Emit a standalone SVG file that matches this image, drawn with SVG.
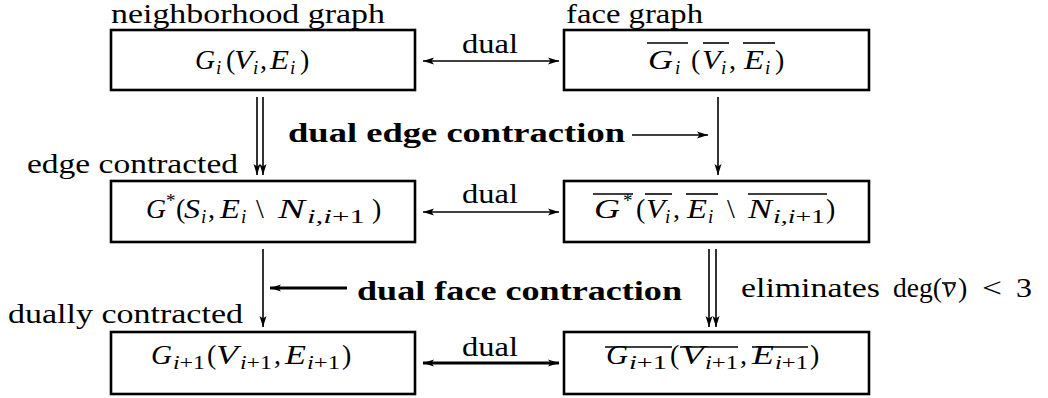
<svg xmlns="http://www.w3.org/2000/svg" width="1048" height="398" viewBox="0 0 1048 398">
<style>
text{font-family:"Liberation Serif","Times New Roman",serif;fill:#000}
.t{font-size:28px}
.b{font-size:28px;font-weight:bold}
.m{font-size:28px;font-style:italic}
.r{font-size:28px}
.s{font-size:19px;font-style:italic}
.sr{font-size:19px}
.box{fill:#fff;stroke:#000;stroke-width:2.6}
.ln{stroke:#000;stroke-width:1.6;fill:none}
.lnb{stroke:#000;stroke-width:3;fill:none}
.ov{stroke:#000;stroke-width:1.6}
</style>
<defs>
<marker id="ah" markerUnits="userSpaceOnUse" markerWidth="12" markerHeight="8" refX="11" refY="3.5" orient="auto-start-reverse" viewBox="0 0 12 7">
<path d="M0,0 L11,3.5 L0,7 L2.5,3.5 Z" fill="#000"/>
</marker>
</defs>
<rect width="1048" height="398" fill="#fff"/>

<g id="connectors">
<line class="ln" x1="423" y1="61" x2="559" y2="61" marker-start="url(#ah)" marker-end="url(#ah)"/>
<text class="t" x="462" y="53" textLength="56" lengthAdjust="spacingAndGlyphs">dual</text>
<line class="ln" x1="423" y1="212" x2="559" y2="212" marker-start="url(#ah)" marker-end="url(#ah)"/>
<text class="t" x="462" y="203" textLength="56" lengthAdjust="spacingAndGlyphs">dual</text>
<line class="lnb" x1="423" y1="363" x2="559" y2="363" marker-start="url(#ah)" marker-end="url(#ah)"/>
<text class="t" x="462" y="356" textLength="56" lengthAdjust="spacingAndGlyphs">dual</text>

<line class="ln" x1="257" y1="97" x2="257" y2="175" marker-end="url(#ah)"/>
<line class="ln" x1="263" y1="97" x2="263" y2="175" marker-end="url(#ah)"/>
<line class="ln" x1="718" y1="97" x2="718" y2="175" marker-end="url(#ah)"/>
<line class="ln" x1="632" y1="135" x2="708" y2="135" marker-end="url(#ah)"/>
<text class="b" x="288" y="142" textLength="337" lengthAdjust="spacingAndGlyphs">dual edge contraction</text>

<line class="ln" x1="263" y1="249" x2="263" y2="327" marker-end="url(#ah)"/>
<line class="lnb" x1="347" y1="288" x2="270" y2="288" marker-end="url(#ah)"/>
<text class="b" x="357" y="300" textLength="325" lengthAdjust="spacingAndGlyphs">dual face contraction</text>
<line class="ln" x1="709" y1="249" x2="709" y2="327" marker-end="url(#ah)"/>
<line class="ln" x1="716" y1="249" x2="716" y2="327" marker-end="url(#ah)"/>
<text class="t" x="741" y="297" textLength="139" lengthAdjust="spacingAndGlyphs">eliminates</text>
<text class="t" x="893" y="297" textLength="49" lengthAdjust="spacingAndGlyphs">deg(</text>
<text class="m" x="943" y="297">v</text>
<line class="ov" x1="942" y1="283" x2="956" y2="283"/>
<text class="r" x="958" y="297">)</text>
<text class="r" x="982" y="297" textLength="20" lengthAdjust="spacingAndGlyphs">&lt;</text>
<text class="r" x="1016" y="297" textLength="16" lengthAdjust="spacingAndGlyphs">3</text>
</g>

<g id="node-Gi">
<text class="t" x="111" y="23" textLength="274" lengthAdjust="spacingAndGlyphs">neighborhood graph</text>
<rect class="box" x="111" y="30" width="304" height="60"/>
<text class="m" x="195" y="69" textLength="20" lengthAdjust="spacingAndGlyphs">G</text><text class="s" x="216" y="74">i</text>
<text class="r" x="226" y="69">(</text>
<text class="m" x="234" y="69" textLength="19" lengthAdjust="spacingAndGlyphs">V</text><text class="s" x="253" y="74">i</text>
<text class="r" x="260" y="69">,</text>
<text class="m" x="270" y="69" textLength="19" lengthAdjust="spacingAndGlyphs">E</text><text class="s" x="290" y="74">i</text>
<text class="r" x="300" y="69">)</text>
</g>

<g id="node-Gi-bar">
<text class="t" x="566" y="23" textLength="137" lengthAdjust="spacingAndGlyphs">face graph</text>
<rect class="box" x="564" y="30" width="305" height="60"/>
<text class="m" x="648" y="69" textLength="25" lengthAdjust="spacingAndGlyphs">G</text><text class="s" x="675" y="74">i</text>
<text class="r" x="691" y="69">(</text>
<text class="m" x="702" y="69" textLength="19" lengthAdjust="spacingAndGlyphs">V</text><text class="s" x="721" y="74">i</text>
<text class="r" x="729" y="69">,</text>
<text class="m" x="744" y="69" textLength="20" lengthAdjust="spacingAndGlyphs">E</text><text class="s" x="765" y="74">i</text>
<text class="r" x="775" y="69">)</text>
<line class="ov" x1="647" y1="43" x2="688" y2="43"/>
<line class="ov" x1="703" y1="43" x2="729" y2="43"/>
<line class="ov" x1="743" y1="43" x2="775" y2="43"/>
</g>

<g id="node-Gstar">
<text class="t" x="27" y="173" textLength="211" lengthAdjust="spacingAndGlyphs">edge contracted</text>
<rect class="box" x="111" y="181" width="304" height="61"/>
<text class="m" x="146" y="218" textLength="20" lengthAdjust="spacingAndGlyphs">G</text><text class="sr" x="166" y="207">*</text>
<text class="r" x="176" y="218">(</text>
<text class="m" x="184" y="218" textLength="16" lengthAdjust="spacingAndGlyphs">S</text><text class="s" x="201" y="223">i</text>
<text class="r" x="208" y="218">,</text>
<text class="m" x="220" y="218" textLength="20" lengthAdjust="spacingAndGlyphs">E</text><text class="s" x="241" y="223">i</text>
<text class="r" x="256" y="218">\</text>
<text class="m" x="278" y="218" textLength="27" lengthAdjust="spacingAndGlyphs">N</text><text class="s" x="307" y="223" textLength="58" lengthAdjust="spacingAndGlyphs">i,i<tspan font-style="normal">+1</tspan></text>
<text class="r" x="372" y="218">)</text>
</g>

<g id="node-Gstar-bar">
<rect class="box" x="564" y="181" width="305" height="61"/>
<text class="m" x="594" y="218" textLength="26" lengthAdjust="spacingAndGlyphs">G</text><text class="sr" x="623" y="207">*</text>
<text class="r" x="636" y="218">(</text>
<text class="m" x="646" y="218" textLength="19" lengthAdjust="spacingAndGlyphs">V</text><text class="s" x="665" y="223">i</text>
<text class="r" x="673" y="218">,</text>
<text class="m" x="687" y="218" textLength="20" lengthAdjust="spacingAndGlyphs">E</text><text class="s" x="708" y="223">i</text>
<text class="r" x="727" y="218">\</text>
<text class="m" x="748" y="218" textLength="24" lengthAdjust="spacingAndGlyphs">N</text><text class="s" x="773" y="223" textLength="52" lengthAdjust="spacingAndGlyphs">i,i<tspan font-style="normal">+1</tspan></text>
<text class="r" x="826" y="218">)</text>
<line class="ov" x1="593" y1="194" x2="633" y2="194"/>
<line class="ov" x1="645" y1="194" x2="672" y2="194"/>
<line class="ov" x1="686" y1="194" x2="718" y2="194"/>
<line class="ov" x1="748" y1="194" x2="827" y2="194"/>
</g>

<g id="node-Gi1">
<text class="t" x="8" y="323" textLength="235" lengthAdjust="spacingAndGlyphs">dually contracted</text>
<rect class="box" x="111" y="332" width="304" height="62"/>
<text class="m" x="151" y="364" textLength="21" lengthAdjust="spacingAndGlyphs">G</text><text class="s" x="173" y="369" textLength="32" lengthAdjust="spacingAndGlyphs">i<tspan font-style="normal">+1</tspan></text>
<text class="r" x="207" y="364">(</text>
<text class="m" x="216" y="364" textLength="22" lengthAdjust="spacingAndGlyphs">V</text><text class="s" x="240" y="369" textLength="32" lengthAdjust="spacingAndGlyphs">i<tspan font-style="normal">+1</tspan></text>
<text class="r" x="274" y="364">,</text>
<text class="m" x="285" y="364" textLength="21" lengthAdjust="spacingAndGlyphs">E</text><text class="s" x="307" y="369" textLength="33" lengthAdjust="spacingAndGlyphs">i<tspan font-style="normal">+1</tspan></text>
<text class="r" x="342" y="364">)</text>
</g>

<g id="node-Gi1-bar">
<rect class="box" x="564" y="332" width="305" height="62"/>
<text class="m" x="606" y="364" textLength="22" lengthAdjust="spacingAndGlyphs">G</text><text class="s" x="629" y="369" textLength="38" lengthAdjust="spacingAndGlyphs">i<tspan font-style="normal">+1</tspan></text>
<text class="r" x="670" y="364">(</text>
<text class="m" x="681" y="364" textLength="23" lengthAdjust="spacingAndGlyphs">V</text><text class="s" x="705" y="369" textLength="33" lengthAdjust="spacingAndGlyphs">i<tspan font-style="normal">+1</tspan></text>
<text class="r" x="740" y="364">,</text>
<text class="m" x="752" y="364" textLength="22" lengthAdjust="spacingAndGlyphs">E</text><text class="s" x="775" y="369" textLength="33" lengthAdjust="spacingAndGlyphs">i<tspan font-style="normal">+1</tspan></text>
<text class="r" x="810" y="364">)</text>
<line class="ov" x1="605" y1="347" x2="672" y2="347"/>
<line class="ov" x1="680" y1="347" x2="738" y2="347"/>
<line class="ov" x1="752" y1="347" x2="808" y2="347"/>
</g>
</svg>
